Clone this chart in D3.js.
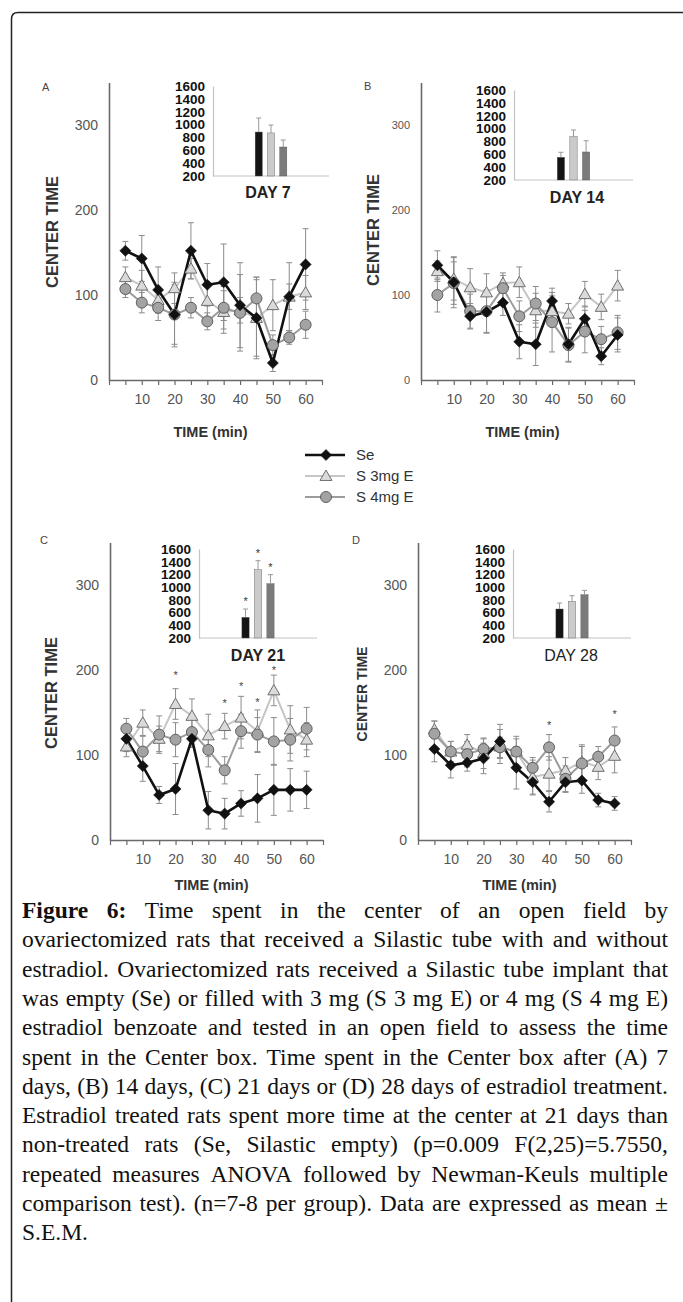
<!DOCTYPE html>
<html>
<head>
<meta charset="utf-8">
<script src="https://cdn.jsdelivr.net/npm/d3@7"></script>
<style>
body { margin: 0; background: #fff; }
svg { display: block; }
</style>
</head>
<body>
<svg id="fig" width="683" height="1302"></svg>
<script>
// time points (min) and groups
const times = [5, 10, 15, 20, 25, 30, 35, 40, 45, 50, 55, 60];
const groups = ["Se", "S 3mg E", "S 4mg E"];
const yTicks = [0, 100, 200, 300];
const insetTicks = [200, 400, 600, 800, 1000, 1200, 1400, 1600];

// A - day 7
const seA = [152, 143, 106, 77, 152, 112, 115, 88, 73, 20, 98, 136];
const seA_err = [11, 27, 27, 35, 33, 25, 45, 50, 45, 10, 40, 42];
const s3A = [121, 111, 94, 108, 131, 93, 80, 82, 73, 88, 98, 103];
const s3A_err = [12, 18, 15, 18, 12, 22, 25, 15, 48, 30, 15, 20];
const s4A = [107, 91, 85, 77, 85, 69, 85, 79, 96, 41, 50, 65];
const s4A_err = [10, 12, 15, 38, 12, 10, 25, 45, 25, 12, 8, 16];
const barsA = [884, 870, 651];
const barsA_err = [218, 123, 109];

// B - day 14
const seB = [135, 115, 75, 80, 91, 45, 42, 93, 42, 72, 28, 53];
const seB_err = [17, 30, 15, 25, 15, 20, 25, 15, 20, 15, 10, 20];
const s3B = [128, 119, 109, 103, 114, 115, 82, 81, 78, 101, 86, 111];
const s3B_err = [12, 25, 22, 22, 12, 18, 20, 18, 12, 15, 15, 18];
const s4B = [100, 114, 81, 81, 108, 75, 90, 68, 41, 57, 48, 56];
const s4B_err = [20, 25, 20, 25, 15, 18, 20, 35, 20, 25, 15, 20];
const barsB = [553, 874, 636];
const barsB_err = [78, 104, 175];

// C - day 21
const seC = [119, 87, 53, 60, 119, 35, 31, 43, 49, 59, 59, 59];
const seC_err = [15, 18, 10, 30, 10, 22, 18, 15, 28, 30, 25, 22];
const s3C = [110, 138, 119, 160, 146, 123, 134, 144, 128, 176, 130, 118];
const s3C_err = [12, 15, 15, 18, 20, 25, 15, 25, 25, 18, 28, 20];
const s4C = [131, 104, 124, 118, 127, 106, 82, 128, 124, 116, 118, 131];
const s4C_err = [12, 18, 22, 20, 18, 20, 16, 20, 20, 28, 25, 25];
const barsC = [525, 1274, 1054];
const barsC_err = [131, 142, 142];
const starsC = [20, 35, 40, 45, 50];
const starsC_at = [196, 163, 184, 165, 202];

// D - day 28
const seD = [107, 88, 91, 96, 116, 85, 68, 45, 68, 70, 47, 43];
const seD_err = [15, 15, 10, 18, 20, 25, 15, 12, 12, 15, 8, 8];
const s3D = [130, 104, 112, 102, 110, 104, 74, 78, 82, 92, 86, 99];
const s3D_err = [10, 12, 12, 18, 20, 15, 20, 20, 15, 20, 15, 20];
const s4D = [125, 104, 101, 107, 109, 104, 85, 109, 72, 90, 98, 117];
const s4D_err = [15, 12, 15, 12, 12, 18, 12, 15, 15, 20, 12, 16];
const barsD = [656, 776, 881];
const barsD_err = [94, 89, 68];
const starsD = [40, 60];
const starsD_at = [138, 151];

const captionLines = [
  "Figure 6: Time spent in the center of an open field by",
  "ovariectomized rats that received a Silastic tube with and without",
  "estradiol. Ovariectomized rats received a Silastic tube implant that",
  "was empty (Se) or filled with 3 mg (S 3 mg E) or 4 mg (S 4 mg E)",
  "estradiol benzoate and tested in an open field to assess the time",
  "spent in the Center box. Time spent in the Center box after (A) 7",
  "days, (B) 14 days, (C) 21 days or (D) 28 days of estradiol treatment.",
  "Estradiol treated rats spent more time at the center at 21 days than",
  "non-treated rats (Se, Silastic empty) (p=0.009 F(2,25)=5.7550,",
  "repeated measures ANOVA followed by Newman-Keuls multiple",
  "comparison test). (n=7-8 per group). Data are expressed as mean \u00b1",
  "S.E.M."
];

const svg = d3.select("#fig");
const sans = "Arial, 'Liberation Sans', Helvetica, sans-serif";

// styles per group
const lineColor = ["#111", "#c6c6c6", "#9c9c9c"];
const lineWidth = [2.6, 2, 2];
const markFill = ["#111", "#dadada", "#a3a3a3"];
const markStroke = ["#111", "#6e6e6e", "#5e5e5e"];
const barFill = ["#141414", "#cbcbcb", "#7b7b7b"];

const symbols = [
  d3.symbol().type(d3.symbolSquare).size(62),
  d3.symbol().type(d3.symbolTriangle).size(62),
  d3.symbol().type(d3.symbolCircle).size(95)
];

// frame
svg.append("path")
  .attr("d", "M11.5,1302 V19 Q11.5,12.5 18,12.5 H683")
  .attr("fill", "none").attr("stroke", "#222").attr("stroke-width", 1.5);

const panels = [
  { letter: "A", day: "DAY 7", dayBold: true,
    series: [[seA, seA_err], [s3A, s3A_err], [s4A, s4A_err]], bars: barsA, barsErr: barsA_err,
    barStars: false, stars: [], starsAt: [],
    x0: 109, y0: 380, yLab: 14, timeY: 57, ctX: 52, ctY: 232, ctSize: 16.5, letterX: 42, letterY: 91,
    ins: { x0: 213, x1: 329, top: 86, base: 176 }, dayX: 268, dayY: 192 },
  { letter: "B", day: "DAY 14", dayBold: true,
    series: [[seB, seB_err], [s3B, s3B_err], [s4B, s4B_err]], bars: barsB, barsErr: barsB_err,
    barStars: false, stars: [], starsAt: [],
    x0: 421, y0: 380, yLab: 11, timeY: 57, ctX: 373, ctY: 230, ctSize: 16.5, letterX: 364, letterY: 90,
    ins: { x0: 514, x1: 633, top: 90, base: 180 }, dayX: 577, dayY: 197 },
  { letter: "C", day: "DAY 21", dayBold: true,
    series: [[seC, seC_err], [s3C, s3C_err], [s4C, s4C_err]], bars: barsC, barsErr: barsC_err,
    barStars: true, stars: starsC, starsAt: starsC_at,
    x0: 110, y0: 840, yLab: 14, timeY: 50, ctX: 51, ctY: 693, ctSize: 16.5, letterX: 40, letterY: 544,
    ins: { x0: 199, x1: 317, top: 549, base: 638 }, dayX: 258, dayY: 655 },
  { letter: "D", day: "DAY 28", dayBold: false,
    series: [[seD, seD_err], [s3D, s3D_err], [s4D, s4D_err]], bars: barsD, barsErr: barsD_err,
    barStars: false, stars: starsD, starsAt: starsD_at,
    x0: 418, y0: 840, yLab: 14, timeY: 50, ctX: 362, ctY: 694, ctSize: 14, letterX: 352, letterY: 544,
    ins: { x0: 513, x1: 631, top: 549, base: 638 }, dayX: 571, dayY: 655 }
];

panels.forEach(drawPanel);

function drawPanel(p) {
  const g = svg.append("g").attr("font-family", sans);
  const x = d3.scaleLinear().domain([0, 65]).range([p.x0, p.x0 + 213]);
  const y = d3.scaleLinear().domain([0, 350]).range([p.y0, p.y0 - 297.5]);

  // y axis
  const ya = g.append("g").attr("transform", `translate(${p.x0},0)`)
    .call(d3.axisLeft(y).tickValues(yTicks).tickSize(0).tickPadding(11));
  ya.select(".domain").attr("stroke", "#6a6a6a").attr("stroke-width", 1.6);
  ya.selectAll("text").attr("font-size", p.yLab).attr("fill", "#555").attr("font-family", sans);

  // x axis
  const xa = g.append("g").attr("transform", `translate(0,${p.y0})`)
    .call(d3.axisBottom(x).tickValues([0, ...times, 65]).tickSize(5).tickSizeOuter(0).tickPadding(9)
      .tickFormat(d => (d % 10 === 0 && d > 0) ? d : ""));
  xa.select(".domain").attr("stroke", "#6a6a6a").attr("stroke-width", 1.6);
  xa.selectAll("line").attr("stroke", "#6a6a6a").attr("stroke-width", 1.2);
  xa.selectAll("text").attr("font-size", 14).attr("fill", "#555").attr("font-family", sans);

  g.append("text").attr("x", (p.x0 + p.x0 + 213) / 2 - 5).attr("y", p.y0 + p.timeY)
    .attr("text-anchor", "middle").attr("font-weight", "bold").attr("font-size", 14.5)
    .attr("fill", "#333").text("TIME (min)");

  g.append("text").attr("transform", `translate(${p.ctX},${p.ctY}) rotate(-90)`)
    .attr("text-anchor", "middle").attr("dy", "0.36em").attr("font-weight", "bold")
    .attr("font-size", p.ctSize).attr("fill", "#333").text("CENTER TIME");

  g.append("text").attr("x", p.letterX).attr("y", p.letterY).attr("font-size", 11)
    .attr("fill", "#444").text(p.letter);

  // error bars
  p.series.forEach(([vals, errs]) => {
    const eb = g.append("g").attr("stroke", "#8c8c8c").attr("stroke-width", 1);
    vals.forEach((v, i) => {
      const cx = x(times[i]);
      eb.append("line").attr("x1", cx).attr("x2", cx).attr("y1", y(v - errs[i])).attr("y2", y(v + errs[i]));
      [v - errs[i], v + errs[i]].forEach(e => eb.append("line")
        .attr("x1", cx - 3).attr("x2", cx + 3).attr("y1", y(e)).attr("y2", y(e)));
    });
  });

  // lines
  const line = d3.line().x((d, i) => x(times[i])).y(d => y(d));
  [1, 2, 0].forEach(k => {
    g.append("path").datum(p.series[k][0]).attr("d", line).attr("fill", "none")
      .attr("stroke", lineColor[k]).attr("stroke-width", lineWidth[k]).attr("stroke-linejoin", "round");
  });

  // markers
  [1, 2, 0].forEach(k => {
    g.append("g").selectAll("path").data(p.series[k][0]).join("path")
      .attr("d", symbols[k])
      .attr("transform", (d, i) => `translate(${x(times[i])},${y(d) + (k === 1 ? 1 : 0)})` + (k === 0 ? " rotate(45)" : ""))
      .attr("fill", markFill[k]).attr("stroke", markStroke[k]).attr("stroke-width", k === 0 ? 0.5 : 1);
  });

  // significance stars
  p.stars.forEach((t, j) => {
    g.append("text").attr("x", x(t)).attr("y", y(p.starsAt[j]) + 6).attr("text-anchor", "middle")
      .attr("font-size", 11).attr("fill", "#444").text("*");
  });

  // inset bar chart
  const ins = p.ins;
  const yi = d3.scaleLinear().domain([200, 1600]).range([ins.base, ins.top]);
  const outer = d3.scaleBand().domain([p.day]).range([ins.x0, ins.x1]).paddingOuter(1.2);
  const inner = d3.scaleBand().domain(groups).range([0, outer.bandwidth()]).paddingInner(0.42).paddingOuter(0.1);

  const yia = g.append("g").attr("transform", `translate(${ins.x0},0)`)
    .call(d3.axisLeft(yi).tickValues(insetTicks).tickSize(0).tickPadding(8).tickFormat(d3.format("d")));
  yia.select(".domain").attr("stroke", "#c4c4c4").attr("stroke-width", 1.2);
  yia.selectAll("text").attr("font-size", 13.5).attr("font-weight", "bold").attr("fill", "#111")
    .attr("font-family", sans);
  g.append("line").attr("x1", ins.x0).attr("x2", ins.x1).attr("y1", ins.base).attr("y2", ins.base)
    .attr("stroke", "#c4c4c4").attr("stroke-width", 1.2);

  const bg = g.append("g");
  p.bars.forEach((v, k) => {
    const bx = outer(p.day) + inner(groups[k]);
    const bw = inner.bandwidth();
    bg.append("rect").attr("x", bx).attr("y", yi(v)).attr("width", bw).attr("height", yi(200) - yi(v))
      .attr("fill", barFill[k]).attr("stroke", "#555").attr("stroke-width", 0.4);
    const cx = bx + bw / 2;
    const et = yi(v + p.barsErr[k]);
    bg.append("line").attr("x1", cx).attr("x2", cx).attr("y1", yi(v)).attr("y2", et)
      .attr("stroke", "#999").attr("stroke-width", 1);
    bg.append("line").attr("x1", cx - 2.5).attr("x2", cx + 2.5).attr("y1", et).attr("y2", et)
      .attr("stroke", "#999").attr("stroke-width", 1);
    if (p.barStars) {
      bg.append("text").attr("x", cx).attr("y", et - 4).attr("text-anchor", "middle")
        .attr("font-size", 11).attr("fill", "#333").text("*");
    }
  });

  g.append("text").attr("x", p.dayX).attr("y", p.dayY).attr("dy", "0.36em").attr("text-anchor", "middle")
    .attr("font-size", 16).attr("font-weight", p.dayBold ? "bold" : "normal").attr("fill", "#222")
    .text(p.day);
}

// legend
const lg = svg.append("g").attr("font-family", sans);
const legY = [455, 476, 497];
groups.forEach((name, k) => {
  lg.append("line").attr("x1", 305).attr("x2", 345).attr("y1", legY[k]).attr("y2", legY[k])
    .attr("stroke", lineColor[k]).attr("stroke-width", lineWidth[k]);
  lg.append("path").attr("d", symbols[k])
    .attr("transform", `translate(326,${legY[k] + (k === 1 ? 1 : 0)})` + (k === 0 ? " rotate(45)" : ""))
    .attr("fill", markFill[k]).attr("stroke", markStroke[k]).attr("stroke-width", k === 0 ? 0.5 : 1);
  lg.append("text").attr("x", 356).attr("y", legY[k]).attr("dy", "0.36em")
    .attr("font-size", 15).attr("fill", "#333").text(name);
});

// caption, justified line by line
const serif = "'Liberation Serif', 'Times New Roman', serif";
const cap = svg.append("g").attr("font-family", serif).attr("fill", "#111");
const capX0 = 22, capX1 = 668, capY0 = 918, capStep = 29.3;

function measure(words, size) {
  const tmp = cap.append("g").attr("font-size", size);
  const w = words.map(wd => tmp.append("text").attr("font-weight", wd.bold ? "bold" : null)
    .text(wd.t).node().getComputedTextLength());
  tmp.remove();
  return w;
}
const toWords = (s, li) => s.split(" ").map((t, j) => ({ t, bold: li === 0 && j < 2 }));

// pick a font size so that the tightest line fills the measure
const ref = toWords(captionLines[6], 6);
const refW = measure(ref, 20);
const natural = d3.sum(refW) + 0.25 * 20 * (ref.length - 1);
const capSize = 20 * (capX1 - capX0 - 4) / natural;
cap.attr("font-size", capSize);

captionLines.forEach((s, li) => {
  const words = toWords(s, li);
  const widths = measure(words, capSize);
  const last = li === captionLines.length - 1;
  const gap = last ? capSize * 0.25 : (capX1 - capX0 - d3.sum(widths)) / (words.length - 1);
  let xx = capX0;
  words.forEach((wd, j) => {
    cap.append("text").attr("x", xx).attr("y", capY0 + li * capStep)
      .attr("font-weight", wd.bold ? "bold" : null).text(wd.t);
    xx += widths[j] + gap;
  });
});
</script>
</body>
</html>
